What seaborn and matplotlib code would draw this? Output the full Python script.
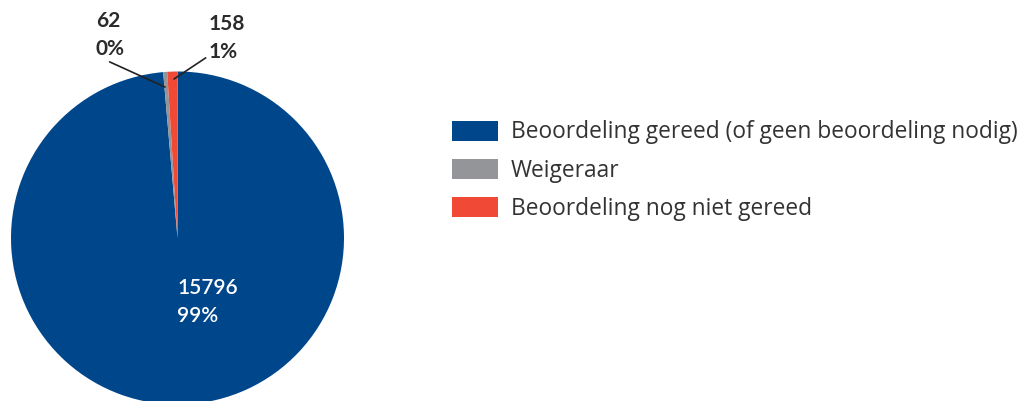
import matplotlib
matplotlib.use("Agg")
import matplotlib.pyplot as plt
import matplotlib.patches as mpatches
import seaborn as sns

categories = ["Beoordeling gereed (of geen beoordeling nodig)", "Weigeraar", "Beoordeling nog niet gereed"]
values = [15796, 62, 158]
pct_labels = ["99%", "0%", "1%"]
colors = ["#00468B", "#939598", "#F04A37"]

sns.set_theme(style="white")
plt.rcParams['font.family'] = ['Lato', 'DejaVu Sans']

W, H = 1020, 401
fig = plt.figure(figsize=(W / 100, H / 100), dpi=100)

cx, cy, r = 177.5, 238, 166.5
ax = fig.add_axes([(cx - r) / W, (H - cy - r) / H, 2 * r / W, 2 * r / H])
wedges, _ = ax.pie(values, colors=colors, startangle=90, counterclock=False,
                   wedgeprops=dict(linewidth=0))
ax.set_xlim(-1, 1)
ax.set_ylim(-1, 1)
ax.set_aspect('auto')
ax.axis('off')

def d(px, py):
    return ((px - cx) / r, (cy - py) / r)

txtc = "#2b2b2b"
# inner label
ax.text(*d(177, 302), f"{values[0]}\n{pct_labels[0]}", color="white", fontsize=15,
        fontweight="semibold", ha="left", va="center", linespacing=1.45)

# outside labels with leader lines
ax.annotate(f"{values[1]}\n{pct_labels[1]}", xy=d(165, 87), xytext=d(96, 35),
            fontsize=15, fontweight="bold", color=txtc, ha="left", va="center",
            linespacing=1.45,
            arrowprops=dict(arrowstyle="-", color="#222222", lw=1.2, shrinkA=0, shrinkB=0,
                            relpos=(0.22, 0.0)))
ax.annotate(f"{values[2]}\n{pct_labels[2]}", xy=d(174, 79), xytext=d(209, 38),
            fontsize=15, fontweight="bold", color=txtc, ha="left", va="center",
            linespacing=1.45,
            arrowprops=dict(arrowstyle="-", color="#222222", lw=1.2, shrinkA=0, shrinkB=0,
                            relpos=(-0.05, 0.1)))

handles = [mpatches.Patch(facecolor=c, edgecolor="none") for c in colors]
fs = 16.4
leg = fig.legend(handles, categories, loc="upper left",
                 bbox_to_anchor=(452 / W, 1 - 120.5 / H), frameon=False,
                 prop={"family": ["Open Sans", "DejaVu Sans"], "size": fs},
                 handlelength=2.0, handleheight=1.0,
                 handletextpad=0.57, labelspacing=0.62, borderpad=0, borderaxespad=0)
for t in leg.get_texts():
    t.set_color("#333333")

fig.savefig("out.png", dpi=100)
